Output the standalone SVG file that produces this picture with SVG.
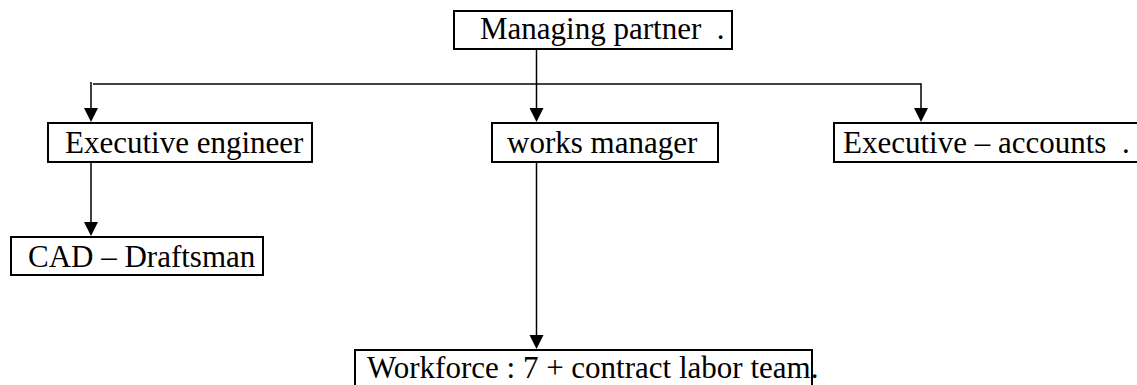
<svg xmlns="http://www.w3.org/2000/svg" width="1137" height="385" viewBox="0 0 1137 385">
<style>
  .box { fill: #fff; stroke: #000; stroke-width: 2; }
  .conn { fill: none; stroke: #000; stroke-width: 1.5; }
  .head { fill: #000; }
  text { font-family: 'Liberation Serif', 'Times New Roman', Times, serif; font-size: 31px; fill: #000; }
</style>
<rect width="1137" height="385" fill="#fff"/>
<g id="connectors">
  <path class="conn" d="M536.5,49 V84"/>
  <path class="conn" d="M93,84 H921"/>
  <path class="conn" d="M91,82 V110"/>
  <path class="head" d="M84,108 L98,108 L91,122 Z"/>
  <path class="conn" d="M536.5,84 V110"/>
  <path class="head" d="M529.5,108 L543.5,108 L536.5,122 Z"/>
  <path class="conn" d="M921,83.25 V110"/>
  <path class="head" d="M914,108 L928,108 L921,122 Z"/>
  <path class="conn" d="M91,162 V224"/>
  <path class="head" d="M84,222 L98,222 L91,236 Z"/>
  <path class="conn" d="M536.5,162 V337"/>
  <path class="head" d="M529.5,335 L543.5,335 L536.5,349 Z"/>
</g>
<g id="managing-partner">
  <rect class="box" x="454" y="11" width="278" height="38"/>
  <text x="480" y="39" xml:space="preserve">Managing partner  .</text>
</g>
<g id="executive-engineer">
  <rect class="box" x="48" y="123" width="264" height="39"/>
  <text x="65" y="153">Executive engineer</text>
</g>
<g id="works-manager">
  <rect class="box" x="492" y="123" width="226" height="39"/>
  <text x="507" y="153">works manager</text>
</g>
<g id="executive-accounts">
  <rect class="box" x="834" y="123" width="320" height="39"/>
  <text x="843" y="153" xml:space="preserve">Executive – accounts  .</text>
</g>
<g id="cad-draftsman">
  <rect class="box" x="11" y="237" width="252" height="38"/>
  <text x="28" y="267">CAD – Draftsman</text>
</g>
<g id="workforce">
  <rect class="box" x="355" y="350" width="457" height="36"/>
  <text x="367" y="378">Workforce : 7 + contract labor team.</text>
</g>
</svg>
